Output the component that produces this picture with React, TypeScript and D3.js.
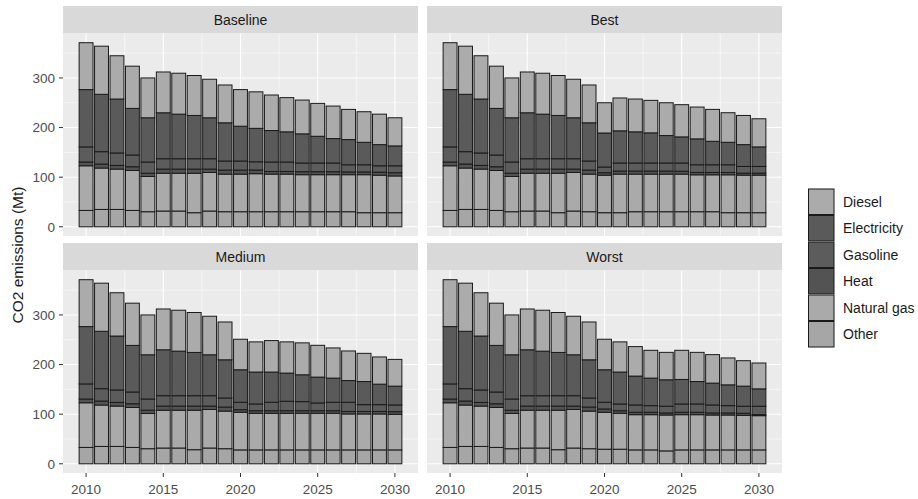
import React from 'react'
import * as d3 from 'd3'

const years = d3.range(2010, 2031)
const fuels = ['Diesel', 'Electricity', 'Gasoline', 'Heat', 'Natural gas', 'Other']
const scenarios = ['Baseline', 'Best', 'Medium', 'Worst']
const yTicks = [0, 100, 200, 300]
const xTicks = [2010, 2015, 2020, 2025, 2030]

// 2010-2019, same in every scenario
const histDiesel = [94.5, 97, 87.2, 85.1, 80.3, 82.2, 82.5, 80.5, 77.7, 76.2]
const histElectricity = [115.5, 115.6, 108.7, 93.9, 89.2, 92.6, 89.8, 87.2, 82.5, 77]
const histGasoline = [30.5, 24.9, 25.1, 23.7, 22.5, 20.9, 20.9, 20.9, 20.9, 18.3]
const histHeat = [7.5, 8.1, 7.4, 7.5, 6.6, 8.3, 8.3, 8.3, 6.8, 8.1]
const histNaturalGas = [90, 83.4, 81.3, 80.5, 71, 76.2, 76.2, 79.6, 77.7, 75.8]
const histOther = [33, 35, 35, 33, 30.4, 31.8, 31.8, 28.4, 31.8, 30.4]

// 2020-2030 projections
const baseDiesel = [73.8, 73.6, 71.6, 68.9, 68.1, 66.3, 65.5, 60.8, 61.6, 61.4, 56.7]
const baseElectricity = [70.1, 67.4, 63.5, 60.9, 58.8, 53.9, 49.3, 50.8, 45.3, 42.6, 40]
const baseGasoline = [18.3, 16.5, 19, 19, 17.5, 17.5, 17.5, 14.5, 14.5, 13, 14]
const baseHeat = [8.1, 7.5, 5.3, 5.3, 6, 6, 6, 5.5, 5.5, 6, 6.5]
const baseNaturalGas = [75.8, 76.6, 75.8, 75.8, 74.6, 74.6, 74.6, 74.6, 76.6, 75.6, 74.1]
const baseOther = [30.4, 30.4, 30.4, 30.4, 30.4, 30.4, 30.4, 30.4, 28.4, 28.4, 28.4]

const bestDiesel = [61, 66.2, 66.1, 65.5, 66.1, 64.9, 64.1, 64.3, 59.6, 58.8, 56.7]
const bestElectricity = [68.6, 64.9, 62.9, 60.8, 55.4, 52.7, 52.2, 47.3, 45.3, 44, 39.4]
const bestGasoline = [11.4, 16.2, 16.2, 16.2, 16.2, 16.5, 15.5, 15.5, 15.5, 13.4, 13.4]
const bestHeat = [5, 6.1, 6.1, 6.1, 6.1, 5.8, 4.7, 4.7, 4.7, 4.1, 4.1]
const bestNaturalGas = [75.6, 77.8, 75.8, 75.8, 75.8, 75.8, 74.4, 74.4, 76.4, 75.7, 75.7]
const bestOther = [28.4, 28.4, 30.4, 30.4, 30.4, 30.4, 30.4, 30.4, 28.4, 28.4, 28.4]

const medDiesel = [61.5, 60.8, 63.4, 62.9, 64.3, 64.1, 60.8, 59.6, 56.8, 54.8, 53.9]
const medElectricity = [65.5, 64.3, 60.9, 56.8, 54.1, 52.1, 48.7, 43.8, 46.6, 41.3, 37.9]
const medGasoline = [15, 13.6, 17, 19, 18.3, 15.6, 17, 18.5, 13.7, 13.7, 13.6]
const medHeat = [5.2, 5.2, 5.2, 5.2, 5.2, 5.2, 5.2, 5, 5, 5, 5.3]
const medNaturalGas = [75.8, 73.8, 73.8, 73.8, 73.8, 73.8, 73.8, 72.5, 72.5, 72.5, 71.7]
const medOther = [28, 28, 28, 28, 28, 28, 28, 28, 28, 28, 28]

const worstDiesel = [61.5, 60.8, 59.4, 56, 55.3, 58.7, 58.8, 57.4, 54.2, 51.3, 52.1]
const worstElectricity = [65.5, 64.3, 58.2, 55.5, 53.3, 49.4, 45.2, 44, 41.9, 40.5, 35]
const worstGasoline = [13.5, 13.6, 14.8, 13.4, 13.5, 16.8, 16.8, 16.1, 14.7, 14.2, 17]
const worstHeat = [6.7, 5.2, 4.8, 4.8, 4.2, 4.8, 4.8, 4.2, 4.2, 4.2, 2]
const worstNaturalGas = [74.4, 72.4, 71, 71, 72.3, 71, 71, 70.3, 70.3, 69.6, 69]
const worstOther = [29.4, 29.4, 28, 28, 26, 28, 28, 28, 28, 28, 28]

const hist = [histDiesel, histElectricity, histGasoline, histHeat, histNaturalGas, histOther]
const projections = {
  Baseline: [baseDiesel, baseElectricity, baseGasoline, baseHeat, baseNaturalGas, baseOther],
  Best: [bestDiesel, bestElectricity, bestGasoline, bestHeat, bestNaturalGas, bestOther],
  Medium: [medDiesel, medElectricity, medGasoline, medHeat, medNaturalGas, medOther],
  Worst: [worstDiesel, worstElectricity, worstGasoline, worstHeat, worstNaturalGas, worstOther],
}

const fuelColors = ['#ababab', '#5a5a5a', '#5c5c5c', '#535353', '#aaaaaa', '#a6a6a6']

const buildRows = (scenario: string) =>
  years.map((year, i) => {
    const row: any = { year }
    fuels.forEach((f, k) => {
      row[f] = i < 10 ? hist[k][i] : projections[scenario][k][i - 10]
    })
    return row
  })

// Other at the bottom, Diesel on top (ggplot stacking)
const stack = d3.stack<any>().keys([...fuels].reverse())

const allTotals = scenarios.flatMap((s) =>
  buildRows(s).map((r) => d3.sum(fuels, (f) => r[f]))
)
const yMax = d3.max(allTotals) as number

const font = '"Liberation Sans", Arial, sans-serif'

const panels = [
  { name: 'Baseline', x0: 63, x1: 418, stripY: 6, y0: 33.5, y1: 236, left: true, bottom: false },
  { name: 'Best', x0: 427, x1: 782, stripY: 6, y0: 33.5, y1: 236, left: false, bottom: false },
  { name: 'Medium', x0: 63, x1: 418, stripY: 243, y0: 270.5, y1: 473, left: true, bottom: true },
  { name: 'Worst', x0: 427, x1: 782, stripY: 243, y0: 270.5, y1: 473, left: false, bottom: true },
]

const Panel = ({ p }: { p: (typeof panels)[number] }) => {
  const lo = 2009.55
  const hi = 2030.45
  const pad = (hi - lo) * 0.05
  const x = d3.scaleLinear().domain([lo - pad, hi + pad]).range([p.x0, p.x1])
  const y = d3
    .scaleLinear()
    .domain([-yMax * 0.05, yMax * 1.05])
    .range([p.y1, p.y0])
  const series = stack(buildRows(p.name))
  const bw = x(0.9) - x(0)
  const minorY = [50, 150, 250, 350]
  const minorX = [2012.5, 2017.5, 2022.5, 2027.5]

  return (
    <g>
      <rect x={p.x0} y={p.stripY} width={p.x1 - p.x0} height={p.y0 - p.stripY} fill="#d9d9d9" />
      <text
        x={(p.x0 + p.x1) / 2}
        y={(p.stripY + p.y0) / 2}
        dy="0.35em"
        textAnchor="middle"
        fontSize="14"
        fill="#1a1a1a"
      >
        {p.name}
      </text>
      <rect x={p.x0} y={p.y0} width={p.x1 - p.x0} height={p.y1 - p.y0} fill="#ebebeb" />
      {minorY.map((t) => (
        <line key={'my' + t} x1={p.x0} x2={p.x1} y1={y(t)} y2={y(t)} stroke="#fff" strokeWidth={0.55} />
      ))}
      {minorX.map((t) => (
        <line key={'mx' + t} x1={x(t)} x2={x(t)} y1={p.y0} y2={p.y1} stroke="#fff" strokeWidth={0.55} />
      ))}
      {yTicks.map((t) => (
        <line key={'gy' + t} x1={p.x0} x2={p.x1} y1={y(t)} y2={y(t)} stroke="#fff" strokeWidth={1.1} />
      ))}
      {xTicks.map((t) => (
        <line key={'gx' + t} x1={x(t)} x2={x(t)} y1={p.y0} y2={p.y1} stroke="#fff" strokeWidth={1.1} />
      ))}
      {series.map((s) => {
        const k = fuels.indexOf(s.key)
        return (
          <g key={s.key}>
            {s.map((d) => (
              <rect
                key={d.data.year}
                x={x(d.data.year) - bw / 2}
                y={y(d[1])}
                width={bw}
                height={y(d[0]) - y(d[1])}
                fill={fuelColors[k]}
                stroke="#1a1a1a"
                strokeWidth={1}
              />
            ))}
          </g>
        )
      })}
      {p.left &&
        yTicks.map((t) => (
          <g key={'yt' + t}>
            <line x1={p.x0 - 4} x2={p.x0} y1={y(t)} y2={y(t)} stroke="#333" strokeWidth={1} />
            <text x={p.x0 - 8} y={y(t)} dy="0.35em" textAnchor="end" fontSize="13.5" fill="#4d4d4d">
              {t}
            </text>
          </g>
        ))}
      {p.bottom &&
        xTicks.map((t) => (
          <g key={'xt' + t}>
            <line x1={x(t)} x2={x(t)} y1={p.y1} y2={p.y1 + 4} stroke="#333" strokeWidth={1} />
            <text x={x(t)} y={p.y1 + 16.5} dy="0.35em" textAnchor="middle" fontSize="13.5" fill="#4d4d4d">
              {t}
            </text>
          </g>
        ))}
    </g>
  )
}

const Legend = () => {
  const key = 26.5
  const top = 188.5
  return (
    <g>
      {fuels.map((f, i) => (
        <g key={f}>
          <rect x={808} y={top + i * key} width={key} height={key} fill="#f2f2f2" />
          <rect
            x={808.5}
            y={top + i * key + 0.5}
            width={key - 1}
            height={key - 1}
            fill={fuelColors[i]}
            stroke="#1a1a1a"
            strokeWidth={1}
          />
          <text x={843} y={top + i * key + key / 2} dy="0.35em" fontSize="14" fill="#1a1a1a">
            {f}
          </text>
        </g>
      ))}
    </g>
  )
}

const App = () => (
  <svg
    width={918}
    height={499}
    style={{ position: 'absolute', left: 0, top: 0, background: '#fff' }}
    fontFamily={font}
  >
    {panels.map((p) => (
      <Panel key={p.name} p={p} />
    ))}
    <text
      transform="translate(18 255) rotate(-90)"
      textAnchor="middle"
      dy="0.35em"
      fontSize="15.5"
      fill="#1a1a1a"
    >
      CO2 emissions (Mt)
    </text>
    <Legend />
  </svg>
)

export default App
